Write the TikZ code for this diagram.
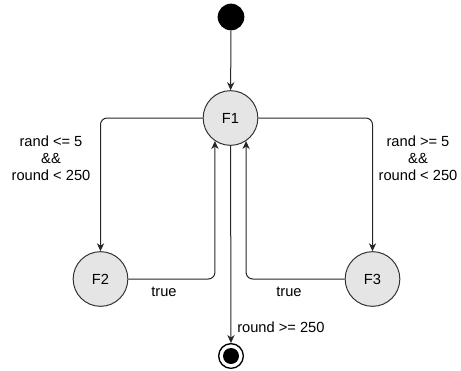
\documentclass[tikz,border=0pt]{standalone}
\usepackage{fontspec}
\setmainfont{Liberation Sans}
\usetikzlibrary{arrows.meta}
\begin{document}
\begin{tikzpicture}[x=0.75pt,y=-0.75pt,
  every node/.style={font=\fontsize{11}{12.75}\selectfont},
  state/.style={circle,draw=black!80,fill=black!10,line width=0.75pt,minimum size=41pt,inner sep=0pt},
  arr/.style={draw=black!85,line width=0.75pt,-{Stealth[length=6pt,width=5.5pt]}},
  lbl/.style={align=center,inner sep=0pt}]
\useasboundingbox (0,0) rectangle (461,371);
\node[circle,fill=black,minimum size=20pt,inner sep=0pt] (init) at (231,17) {};
\node[state] (F1) at (230.5,118) {F1};
\node[state] (F2) at (100.5,279) {F2};
\node[state] (F3) at (372.5,279) {F3};
\node[circle,draw=black,line width=1pt,fill=white,minimum size=18.5pt,inner sep=0pt] (final) at (231,356) {};
\node[circle,fill=black,minimum size=12pt,inner sep=0pt] (finalin) at (final.center) {};
\draw[arr] (init) -- (F1);
\draw[arr,rounded corners=5pt] (F1.west) -| (F2.north);
\draw[arr,rounded corners=5pt] (F1.east) -| (F3.north);
\draw[arr,rounded corners=5pt] (F2.east) -| (F1.-124);
\draw[arr,rounded corners=5pt] (F3.west) -| (F1.-56);
\draw[arr] (F1) -- (final);
\node[lbl] (l1) at (51,158) {rand <= 5\\\&\&\\round < 250};
\node[lbl] (l2) at (418,158) {rand >= 5\\\&\&\\round < 250};
\node[lbl] (t1) at (164,292) {true};
\node[lbl] (t2) at (289,292) {true};
\node[lbl,anchor=west] (l3) at (237,327) {round >= 250};
\end{tikzpicture}
\end{document}
